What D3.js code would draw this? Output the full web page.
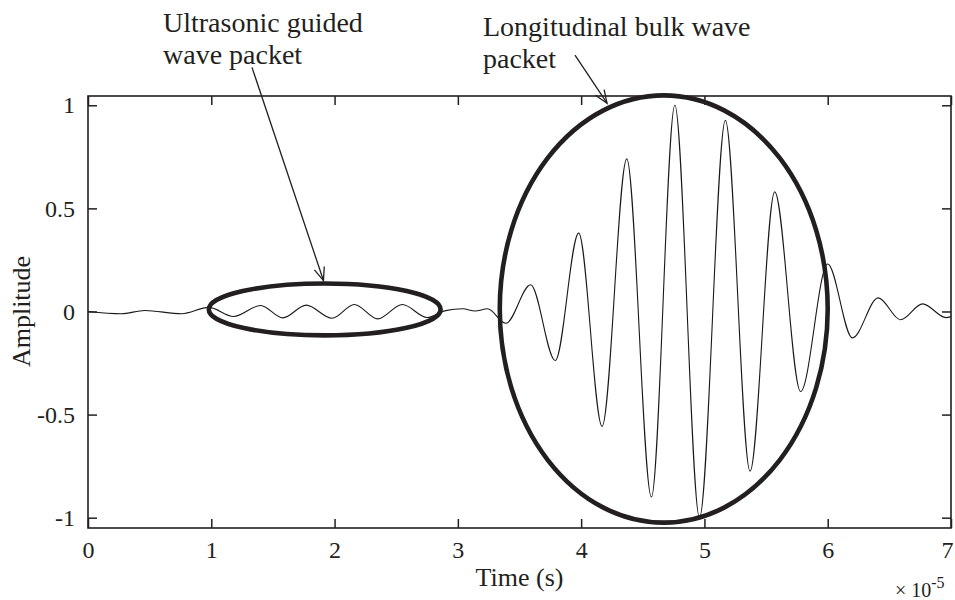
<!DOCTYPE html>
<html lang="en">
<head>
<meta charset="utf-8">
<title>Guided wave and bulk wave packets</title>
<script src="https://d3js.org/d3.v7.min.js"></script>
<style>
  body { margin: 0; background: #fff; }
  svg text { font-family: "Liberation Serif", "Times New Roman", serif; fill: #231f20; }
</style>
</head>
<body>
<script>
// time (x 1e-5 s) and amplitude of each turning point
const peakTimes = [0, 0.27, 0.46, 0.76, 0.98, 1.18, 1.40, 1.58, 1.77, 1.98, 2.16, 2.35, 2.55, 2.75,
                   2.90, 3.04, 3.14, 3.24, 3.39, 3.59, 3.79, 3.98, 4.17, 4.37, 4.57, 4.76, 4.96,
                   5.17, 5.37, 5.57, 5.78, 6.00, 6.20, 6.41, 6.59, 6.77, 6.96, 7.0];
const peakAmps  = [0, -0.011, 0.005, -0.011, 0.02, -0.024, 0.029, -0.031, 0.031, -0.033, 0.034, -0.036, 0.034, -0.029,
                   0.004, 0.013, 0.002, 0.013, -0.057, 0.13, -0.238, 0.38, -0.557, 0.74, -0.90, 1.0, -1.0,
                   0.927, -0.775, 0.58, -0.388, 0.23, -0.128, 0.066, -0.04, 0.037, -0.03, -0.025];

const xTicks = [0, 1, 2, 3, 4, 5, 6, 7];
const yTicks = [-1, -0.5, 0, 0.5, 1];

// the two circled packets, in data units
const ringTime = [1.92, 4.67];
const ringAmp = [0.01, 0.012];
const ringHalfTime = [0.94, 1.33];
const ringHalfAmp = [0.126, 1.036];

// annotation arrows, in data units
const arrowFromTime = [1.33, 3.95];
const arrowFromAmp = [1.184, 1.243];
const arrowToTime = [1.91, 4.21];
const arrowToAmp = [0.15, 1.01];
const noteLines = [["Ultrasonic guided", "wave packet"], ["Longitudinal bulk wave", "packet"]];

const width = 955, height = 600;
const x = d3.scaleLinear().domain([0, 7]).range([88, 951]);
const y = d3.scaleLinear().domain([-1.05, 1.045]).range([528, 96]);

const svg = d3.select("body").append("svg")
  .attr("width", width)
  .attr("height", height);

const ink = "#231f20";

// trace
const trace = peakTimes.map((t, i) => [t, peakAmps[i]]);
svg.append("path")
  .datum(trace)
  .attr("fill", "none")
  .attr("stroke", "#1a1a1a")
  .attr("stroke-width", 1.1)
  .attr("d", d3.line().x(d => x(d[0])).y(d => y(d[1])).curve(d3.curveMonotoneX));

// axes with inward ticks on all four sides
const fmt = d => String(d);
svg.append("g").attr("class", "xaxis").attr("transform", "translate(0," + y.range()[0] + ")")
  .call(d3.axisBottom(x).tickValues(xTicks).tickFormat(fmt).tickSizeInner(-9).tickSizeOuter(0).tickPadding(13));
svg.append("g").attr("transform", "translate(0," + y.range()[1] + ")")
  .call(d3.axisTop(x).tickValues(xTicks).tickFormat("").tickSizeInner(-9).tickSizeOuter(0));
svg.append("g").attr("transform", "translate(" + x.range()[0] + ",0)")
  .call(d3.axisLeft(y).tickValues(yTicks).tickFormat(fmt).tickSizeInner(-9).tickSizeOuter(0).tickPadding(13));
svg.append("g").attr("transform", "translate(" + x.range()[1] + ",0)")
  .call(d3.axisRight(y).tickValues(yTicks).tickFormat("").tickSizeInner(-9).tickSizeOuter(0));

svg.selectAll(".domain").remove();
svg.selectAll(".tick line").attr("stroke", ink).attr("stroke-width", 1.5);
svg.selectAll(".tick text").attr("font-size", 24).attr("font-family", "Liberation Serif").attr("fill", ink);
// keep the last time label inside the page
svg.selectAll(".xaxis .tick text").filter(d => d === 7).attr("text-anchor", "end").attr("dx", 2);

svg.append("rect")
  .attr("x", x.range()[0]).attr("y", y.range()[1])
  .attr("width", x.range()[1] - x.range()[0])
  .attr("height", y.range()[0] - y.range()[1])
  .attr("fill", "none").attr("stroke", ink).attr("stroke-width", 1.6);

// circled packets
svg.selectAll("ellipse.ring")
  .data(ringTime)
  .enter()
  .append("ellipse")
  .attr("class", "ring")
  .attr("cx", d => x(d))
  .attr("cy", (d, i) => y(ringAmp[i]))
  .attr("rx", (d, i) => x(d + ringHalfTime[i]) - x(d))
  .attr("ry", (d, i) => y(ringAmp[i]) - y(ringAmp[i] + ringHalfAmp[i]))
  .attr("fill", "none")
  .attr("stroke", ink)
  .attr("stroke-width", 4.6);

// arrows with open heads
arrowFromTime.forEach((t0, i) => {
  const x0 = x(t0), y0 = y(arrowFromAmp[i]);
  const x1 = x(arrowToTime[i]), y1 = y(arrowToAmp[i]);
  const a = Math.atan2(y1 - y0, x1 - x0);
  const len = 14, spread = 0.38;
  svg.append("line")
    .attr("x1", x0).attr("y1", y0).attr("x2", x1).attr("y2", y1)
    .attr("stroke", ink).attr("stroke-width", 1.3);
  svg.append("path")
    .attr("d", "M" + (x1 - len * Math.cos(a - spread)) + "," + (y1 - len * Math.sin(a - spread)) +
               "L" + x1 + "," + y1 +
               "L" + (x1 - len * Math.cos(a + spread)) + "," + (y1 - len * Math.sin(a + spread)))
    .attr("fill", "none").attr("stroke", ink).attr("stroke-width", 1.3);
});

// annotation text
const noteX = [163, 483];
const noteY = [32, 36];
noteLines.forEach((lines, i) => {
  const t = svg.append("text").attr("font-size", 28);
  lines.forEach((s, j) => {
    t.append("tspan").attr("x", noteX[i]).attr("y", noteY[i] + j * 32).text(s);
  });
});

// axis labels
svg.append("text")
  .attr("x", (x.range()[0] + x.range()[1]) / 2)
  .attr("y", 586)
  .attr("text-anchor", "middle")
  .attr("font-size", 26)
  .text("Time (s)");

svg.append("text")
  .attr("transform", "translate(30," + y(0) + ") rotate(-90)")
  .attr("text-anchor", "middle")
  .attr("font-size", 26)
  .text("Amplitude");

const expo = svg.append("text")
  .attr("x", 895)
  .attr("y", 597)
  .attr("font-size", 20);
expo.append("tspan").text("\u00d7 10");
expo.append("tspan").attr("dy", -9).attr("font-size", 16).text("-5");
</script>
</body>
</html>
